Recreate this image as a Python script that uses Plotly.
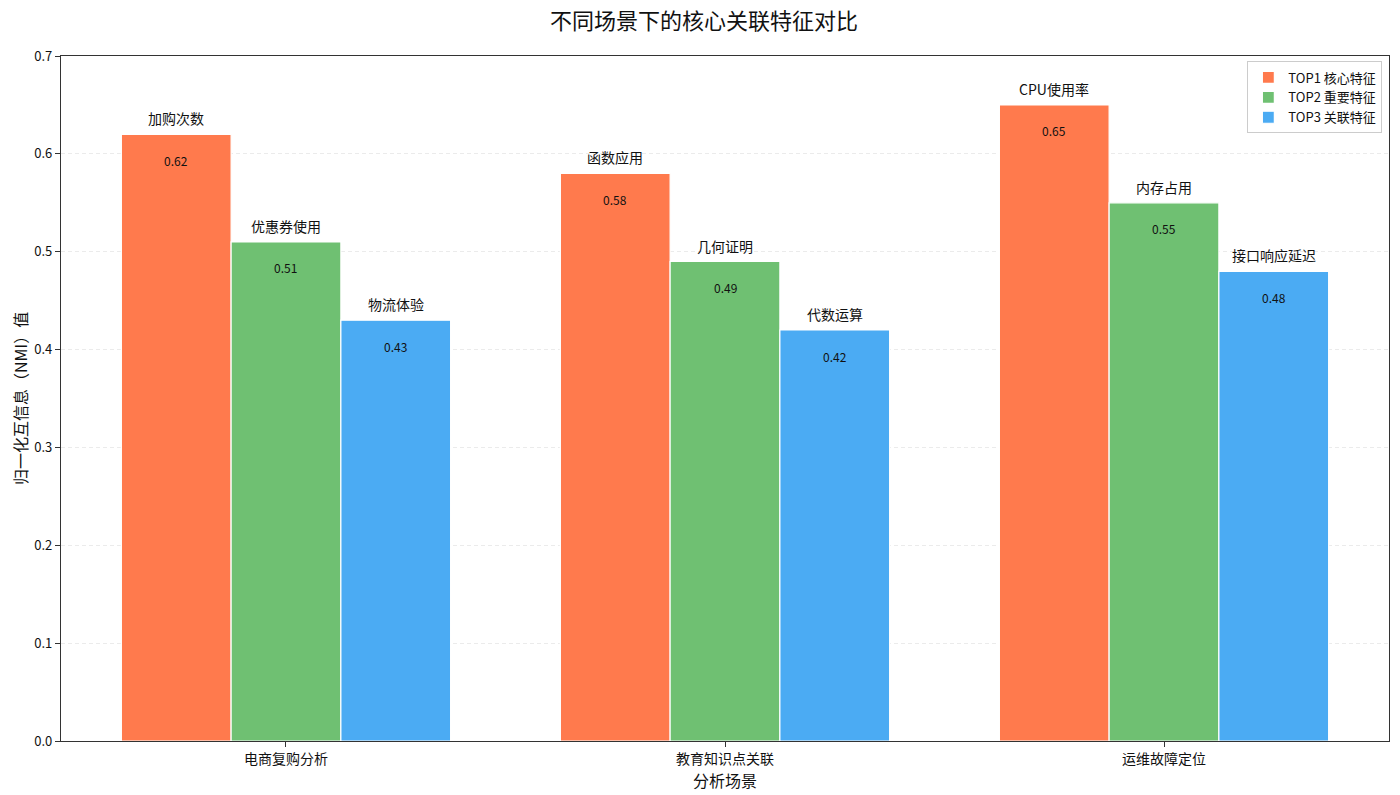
import plotly.graph_objects as go

scenarios = ["电商复购分析", "教育知识点关联", "运维故障定位"]
series_names = ["TOP1 核心特征", "TOP2 重要特征", "TOP3 关联特征"]
top1 = [0.62, 0.58, 0.65]
top2 = [0.51, 0.49, 0.55]
top3 = [0.43, 0.42, 0.48]
feat1 = ["加购次数", "函数应用", "CPU使用率"]
feat2 = ["优惠券使用", "几何证明", "内存占用"]
feat3 = ["物流体验", "代数运算", "接口响应延迟"]
y_ticks = [0.0, 0.1, 0.2, 0.3, 0.4, 0.5, 0.6, 0.7]

colors = ["#FF7A4D", "#6FC072", "#4BABF3"]
font = "Noto Sans CJK SC, SimHei, sans-serif"
width = 0.25

fig = go.Figure()
series = [top1, top2, top3]
feats = [feat1, feat2, feat3]
for j, (vals, name) in enumerate(zip(series, series_names)):
    xs = [i + (j - 1) * width for i in range(len(scenarios))]
    fig.add_trace(go.Bar(
        x=xs, y=vals, width=width, name=name,
        marker=dict(color=colors[j], line=dict(color="white", width=1.2)),
    ))
    for x, v, f in zip(xs, vals, feats[j]):
        fig.add_annotation(x=x, y=v, text=f, showarrow=False, yshift=16,
                           font=dict(size=14, color="#111", family=font))
        fig.add_annotation(x=x, y=v, text=f"{v:.2f}", showarrow=False, yshift=-26,
                           font=dict(size=12, color="#111", family=font))

# page body has an 8px margin, so the figure is sized to fit the 1400x795 window
fig.update_layout(
    width=1392, height=787,
    plot_bgcolor="white", paper_bgcolor="white",
    margin=dict(l=53, r=11, t=48, b=54),
    font=dict(family=font, size=12, color="#111"),
    title=dict(text="不同场景下的核心关联特征对比", x=0.5, xanchor="center",
               yref="container", y=1, yanchor="top", pad=dict(t=6),
               font=dict(size=22, color="#111")),
    legend=dict(x=0.995, y=0.992, xanchor="right", yanchor="top",
                bgcolor="rgba(255,255,255,0.9)", bordercolor="#ccc", borderwidth=1,
                font=dict(size=13), itemwidth=30, tracegroupgap=0),
    showlegend=True,
)
fig.update_xaxes(
    range=[-0.5125, 2.5125], tickvals=list(range(len(scenarios))), ticktext=scenarios,
    showline=True, linecolor="#333", linewidth=1.2, mirror=True,
    ticks="outside", ticklen=5, tickcolor="#333", showgrid=False,
    tickfont=dict(size=14), automargin=False,
    title=dict(text="分析场景", font=dict(size=16), standoff=2),
)
fig.update_yaxes(
    range=[0, 0.7], tickvals=y_ticks, ticktext=[f"{t:.1f}" for t in y_ticks],
    showline=True, linecolor="#333", linewidth=1.2, mirror=True,
    ticks="outside", ticklen=5, tickcolor="#333",
    showgrid=True, gridcolor="#ebebeb", griddash="4px,3px", gridwidth=0.8,
    zeroline=False, tickfont=dict(size=13), automargin=False,
    title=dict(text="归一化互信息（NMI）值", font=dict(size=16), standoff=10),
)

fig.write_html("out.html")
